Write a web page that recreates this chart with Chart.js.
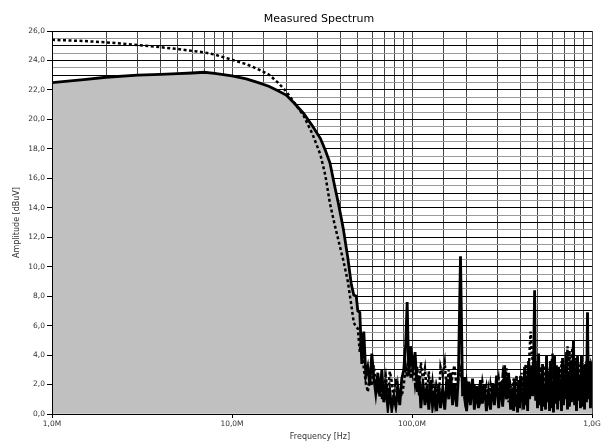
<!DOCTYPE html>
<html>
<head>
<meta charset="utf-8">
<script src="https://cdn.jsdelivr.net/npm/chart.js@4/dist/chart.umd.min.js"></script>
<style>
html,body{margin:0;padding:0;background:#fff;}
#wrap{width:605px;height:443px;position:relative;}
</style>
</head>
<body>
<div id="wrap"><canvas id="c" width="605" height="443"></canvas></div>
<script>
// Sweep frequencies in MHz (smooth roll-off, then the noisy upper band)
const freqMHz = [
  1, 1.5, 2, 3, 4, 5, 6, 7, 8, 10,
  12, 14, 16, 18, 20, 22, 25, 28, 31, 33,
  35, 37, 39, 41.5, 44, 46, 47.5, 49,
  50, 51.3, 52.6, 54, 55.4, 56.8, 58.3, 59.8, 61.3, 62.9,
  64.6, 66.2, 68, 69.7, 71.5, 73.4, 75.3, 77.2, 79.2, 81.3,
  83.4, 85.5, 87.7, 90, 92.3, 94, 96, 98.5, 101, 104,
  107, 109.5, 112, 115, 118, 121, 124, 127, 130, 134,
  137, 141, 144, 148, 152, 156, 160, 164, 168, 172,
  177, 181, 186, 191, 196, 201, 206, 211, 217, 222,
  228, 234, 240, 246, 253, 259, 266, 273, 280, 287,
  295, 303, 311, 319, 327, 335, 344, 353,
  362, 367, 371, 376, 381, 386, 391, 396, 401, 406,
  411, 417, 422, 428, 433, 439, 444, 450, 456, 462,
  468, 474, 480, 486, 492, 498, 505, 511, 518, 525,
  531, 538, 545, 552, 559, 566, 574, 581, 588, 596,
  604, 611, 619, 627, 635, 644, 652, 660, 669, 677,
  686, 695, 704, 713, 722, 731, 741, 750, 760, 769,
  779, 789, 800, 810, 820, 831, 841, 852, 863, 874,
  886, 897, 909, 920, 932, 944, 956, 968, 981, 994,
  1000
];

// Measured trace, dBuV (solid line, filled)
const measured = [
  22.5, 22.7, 22.86, 23.0, 23.06, 23.1, 23.15, 23.2, 23.12, 22.95,
  22.75, 22.5, 22.25, 21.95, 21.65, 21.15, 20.4, 19.55, 18.7, 17.9,
  17.05, 15.6, 14.3, 12.6, 10.6, 8.8, 8.08, 8.0,
  7.0, 6.9, 3.4, 5.6, 2.6, 3.2, 2.0, 4.1, 2.5, 1.4,
  2.8, 1.2, 3.0, 0.8, 1.9, 0.4, 1.6, 0.3, 1.2, 0.5,
  1.8, 0.6, 2.4, 3.0, 4.8, 7.6, 2.6, 4.6, 3.0, 4.2,
  1.5, 2.6, 0.4, 2.2, 0.6, 1.9, 0.3, 2.3, 0.5, 1.6,
  0.2, 2.0, 0.4, 1.7, 0.3, 2.4, 1.0, 2.8, 0.6, 2.1,
  0.5, 2.6, 10.7, 1.2, 2.5, 0.2, 2.2, 0.6, 2.4, 0.3,
  1.9, 0.4, 2.3, 0.7, 2.0, 0.2, 1.5, 0.3, 2.1, 0.6,
  2.6, 0.4, 2.2, 0.5, 3.3, 1.0, 2.8, 0.3,
  1.8, 0.2, 2.4, 0.5, 1.2, 0.1, 2.3, 0.4, 2.6, 0.8,
  1.5, 0.3, 3.2, 0.6, 2.1, 0.2, 3.6, 1.0, 2.4, 3.3,
  1.2, 3.8, 8.4, 0.9, 3.1, 0.4, 4.1, 0.6, 2.5, 0.2,
  3.4, 0.5, 2.0, 0.3, 4.0, 0.8, 2.7, 0.2, 3.6, 0.4,
  2.2, 0.1, 4.0, 0.7, 3.3, 0.3, 3.2, 0.9, 2.4, 0.2,
  3.8, 0.6, 2.6, 1.0, 4.2, 0.3, 2.9, 0.5, 3.6, 0.8,
  2.4, 5.0, 0.6, 3.1, 0.2, 3.9, 0.9, 2.6, 0.4, 4.0,
  0.5, 3.2, 0.3, 3.4, 0.8, 6.9, 1.0, 3.6, 0.4, 3.3,
  3.2
];

// Second trace, dBuV (dotted line)
const reference = [
  25.4, 25.32, 25.23, 25.05, 24.9, 24.78, 24.65, 24.55, 24.4, 24.05,
  23.75, 23.4, 23.05, 22.5, 21.9, 21.2, 20.25, 19.0, 17.6, 16.2,
  14.3, 12.97, 11.8, 10.45, 9.0, 7.4, 6.2, 5.9,
  5.8, 4.2, 5.5, 3.0, 2.2, 1.5, 2.4, 1.9, 3.3, 2.0,
  1.6, 2.2, 1.0, 1.8, 2.6, 1.4, 2.9, 2.2, 1.0, 2.4,
  0.8, 1.5, 1.2, 2.0, 3.2, 2.5, 3.9, 2.4, 3.6, 2.0,
  3.2, 1.2, 3.5, 2.3, 3.1, 1.4, 2.9, 1.0, 2.2, 0.8,
  1.9, 1.2, 3.2, 2.6, 3.5, 1.6, 3.0, 1.4, 2.7, 3.3,
  1.8, 2.4, 3.0, 2.0, 1.0, 2.1, 0.9, 1.8, 1.2, 2.0,
  0.6, 1.6, 1.0, 2.2, 1.3, 1.9, 0.7, 2.0, 1.1, 1.8,
  1.4, 2.4, 1.0, 2.6, 1.6, 3.1, 0.8, 1.9,
  1.2, 2.4, 0.6, 1.9, 2.6, 0.8, 2.2, 1.4, 1.0, 2.8,
  1.6, 2.4, 1.2, 3.4, 1.8, 2.6, 2.2, 4.3, 5.6, 4.4,
  3.6, 3.0, 3.0, 3.6, 2.0, 3.5, 2.4, 1.4, 3.2, 2.8,
  1.8, 3.3, 2.2, 1.2, 3.8, 2.6, 2.0, 3.0, 1.0, 3.4,
  4.1, 2.4, 3.6, 1.6, 3.2, 2.2, 1.0, 3.0, 2.0, 3.6,
  2.4, 3.2, 1.6, 3.6, 2.8, 4.6, 3.0, 4.3, 2.0, 3.6,
  4.5, 3.0, 1.6, 3.8, 2.6, 4.0, 2.2, 3.0, 3.3, 1.8,
  2.0, 3.3, 2.6, 3.0, 2.2, 3.0, 1.8, 3.3, 2.0, 2.6,
  2.6
];

// Decade labels on the frequency axis
const xDecades = [1, 10, 100, 1000];
const xDecadeLabels = ['1,0M', '10,0M', '100,0M', '1,0G'];

// Amplitude axis range and label spacing
const yMin = 0, yMax = 26, yGridStep = 0.5, yLabelStep = 2;

const FONT = 'DejaVu Sans';

function isDecade(v) {
  const l = Math.log10(v);
  return Math.abs(l - Math.round(l)) < 1e-6;
}
function isYLabel(v) {
  const q = v / yLabelStep;
  return Math.abs(q - Math.round(q)) < 1e-6;
}
function isInteger(v) {
  return Math.abs(v - Math.round(v)) < 1e-6;
}

// Titles and plot frame
const decorations = {
  id: 'decorations',
  afterDatasetsDraw(chart) {
    const { ctx, chartArea: a } = chart;
    ctx.save();
    ctx.lineWidth = 1;
    ctx.strokeStyle = '#000';
    ctx.beginPath();
    ctx.moveTo(a.left + 0.5, a.bottom);
    ctx.lineTo(a.left + 0.5, a.top + 0.5);
    ctx.lineTo(a.right, a.top + 0.5);
    ctx.stroke();
    ctx.strokeStyle = '#d4d4d4';
    ctx.beginPath();
    ctx.moveTo(a.left + 1, a.bottom - 0.5);
    ctx.lineTo(a.right, a.bottom - 0.5);
    ctx.stroke();
    ctx.restore();
  },
  afterDraw(chart) {
    const { ctx, chartArea: a } = chart;
    const cx = (a.left + a.right) / 2 - 3;
    ctx.save();
    ctx.fillStyle = '#000';
    ctx.textAlign = 'center';
    ctx.textBaseline = 'middle';
    ctx.font = '11px "' + FONT + '"';
    ctx.fillText('Measured Spectrum', cx, 19);
    ctx.fillStyle = '#333';
    ctx.font = '8px "' + FONT + '"';
    ctx.fillText('Frequency [Hz]', cx + 1, 437);
    ctx.translate(17, (a.top + a.bottom) / 2);
    ctx.rotate(-Math.PI / 2);
    ctx.fillText('Amplitude [dBuV]', 0, 0);
    ctx.restore();
  }
};

const toPoints = (vals) => freqMHz.map((f, i) => ({ x: f, y: vals[i] }));

new Chart(document.getElementById('c'), {
  type: 'line',
  data: {
    datasets: [
      {
        label: 'Reference',
        data: toPoints(reference),
        borderColor: '#000',
        borderWidth: 2.5,
        borderDash: [3, 2.5],
        borderCapStyle: 'butt',
        pointRadius: 0,
        tension: 0,
        fill: false,
        order: 0
      },
      {
        label: 'Measured',
        data: toPoints(measured),
        borderColor: '#000',
        borderWidth: 2.8,
        backgroundColor: '#c0c0c0',
        pointRadius: 0,
        tension: 0,
        fill: 'origin',
        order: 1
      }
    ]
  },
  options: {
    responsive: false,
    animation: false,
    events: [],
    layout: { padding: { left: 0, right: 13, top: 31, bottom: 0 } },
    plugins: { legend: { display: false }, title: { display: false }, tooltip: { enabled: false } },
    scales: {
      x: {
        type: 'logarithmic',
        min: xDecades[0],
        max: xDecades[xDecades.length - 1],
        border: { display: false },
        grid: {
          color: '#474747',
          lineWidth: 1,
          tickLength: 4,
          tickColor: (c) => (c.tick && isDecade(c.tick.value)) ? '#000' : 'rgba(0,0,0,0)'
        },
        ticks: {
          autoSkip: false,
          maxRotation: 0,
          padding: 2,
          color: '#333',
          font: { family: FONT, size: 7.5 },
          callback: (v) => {
            const i = xDecades.findIndex((d) => Math.abs(d - v) < 1e-6 * d);
            return i >= 0 ? xDecadeLabels[i] : '';
          }
        },
        afterFit: (s) => { s.height = 29; }
      },
      y: {
        min: yMin,
        max: yMax,
        border: { display: false },
        grid: {
          color: (c) => (c.tick && isInteger(c.tick.value)) ? '#000' : '#9a9a9a',
          lineWidth: 1,
          tickLength: 5,
          tickColor: (c) => (c.tick && isYLabel(c.tick.value)) ? '#000' : 'rgba(0,0,0,0)'
        },
        ticks: {
          stepSize: yGridStep,
          autoSkip: false,
          padding: 2,
          color: '#333',
          font: { family: FONT, size: 7.5 },
          callback: (v) => isYLabel(v) ? v.toFixed(1).replace('.', ',') : ''
        },
        afterFit: (s) => { s.width = 52; }
      }
    }
  },
  plugins: [decorations]
});
</script>
</body>
</html>
